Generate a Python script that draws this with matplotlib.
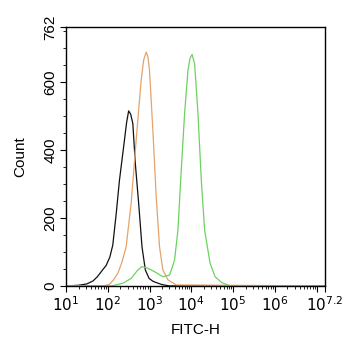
import numpy as np
import matplotlib
matplotlib.use("Agg")
import matplotlib.pyplot as plt
from matplotlib.ticker import FixedLocator, NullFormatter

plt.rcParams['font.family'] = ['Liberation Sans', 'DejaVu Sans']

# log10(FITC-H) positions and counts
black_log = [1.0, 1.3, 1.5, 1.65, 1.75, 1.875, 1.96, 2.05, 2.12, 2.20, 2.28, 2.34, 2.40, 2.45, 2.50, 2.55, 2.60, 2.66, 2.74, 2.82, 2.90, 2.99, 3.08, 3.16, 3.30, 3.48, 7.2]
black_cnt = [0, 2, 6, 15, 27, 47, 60, 85, 120, 210, 311, 370, 429, 480, 515, 505, 478, 360, 243, 115, 47, 22, 14, 10, 4, 0, 0]

orange_log = [1.0, 1.9, 2.04, 2.14, 2.24, 2.34, 2.44, 2.56, 2.68, 2.80, 2.86, 2.92, 2.96, 3.00, 3.08, 3.16, 3.24, 3.32, 3.44, 3.64, 7.2]
orange_cnt = [0, 0, 5, 18, 37, 70, 115, 243, 429, 605, 665, 688, 675, 634, 458, 262, 115, 47, 18, 3, 0]

green_log = [1.0, 2.1, 2.36, 2.56, 2.72, 2.82, 2.96, 3.12, 3.32, 3.48, 3.60, 3.68, 3.76, 3.84, 3.92, 3.97, 4.02, 4.08, 4.16, 4.24, 4.32, 4.45, 4.57, 4.73, 4.93, 7.2]
green_cnt = [0, 0, 8, 22, 47, 57, 52, 42, 27, 32, 76, 164, 341, 507, 634, 670, 681, 654, 507, 311, 164, 67, 27, 10, 0, 0]

x_tick_exp = [1, 2, 3, 4, 5, 6, 7, 7.2]
x_tick_labels = ['$10^{1}$', '$10^{2}$', '$10^{3}$', '$10^{4}$', '$10^{5}$', '$10^{6}$', '', '$10^{7.2}$']
y_ticks = [0, 200, 400, 600, 762]

fig = plt.figure(figsize=(3.42, 3.50), dpi=100)
ax = fig.add_axes([0.193, 0.183, 0.757, 0.740])

ax.plot(10 ** np.array(black_log), black_cnt, color='#111111', lw=0.9)
ax.plot(10 ** np.array(orange_log), orange_cnt, color='#E4A36A', lw=0.9)
ax.plot(10 ** np.array(green_log), green_cnt, color='#6BD35E', lw=0.9)

ax.set_xscale('log')
ax.set_xlim(10 ** 1, 10 ** 7.2)
ax.set_ylim(0, 762)

ax.xaxis.set_major_locator(FixedLocator([10 ** e for e in x_tick_exp]))
ax.set_xticklabels(x_tick_labels)
minor = [m * 10 ** d for d in range(1, 8) for m in range(2, 10) if m * 10 ** d < 10 ** 7.2]
ax.xaxis.set_minor_locator(FixedLocator(minor))
ax.xaxis.set_minor_formatter(NullFormatter())

ax.set_yticks(y_ticks)
ax.set_yticklabels([str(v) for v in y_ticks], rotation=90, va='center')
ax.yaxis.set_minor_locator(FixedLocator([50, 100, 150, 250, 300, 350, 450, 500, 550, 650, 700, 750]))

ax.tick_params(axis='both', which='major', direction='out', length=4, width=0.8, labelsize=11, pad=2)
ax.tick_params(axis='both', which='minor', direction='out', length=2, width=0.6)
ax.tick_params(axis='x', which='major', pad=3)

for s in ax.spines.values():
    s.set_linewidth(1.0)
    s.set_color('black')

ax.set_xlabel('FITC-H', fontsize=11, labelpad=6)
ax.set_ylabel('Count', fontsize=11, labelpad=12)

fig.savefig('out.png', dpi=100, facecolor='white')
